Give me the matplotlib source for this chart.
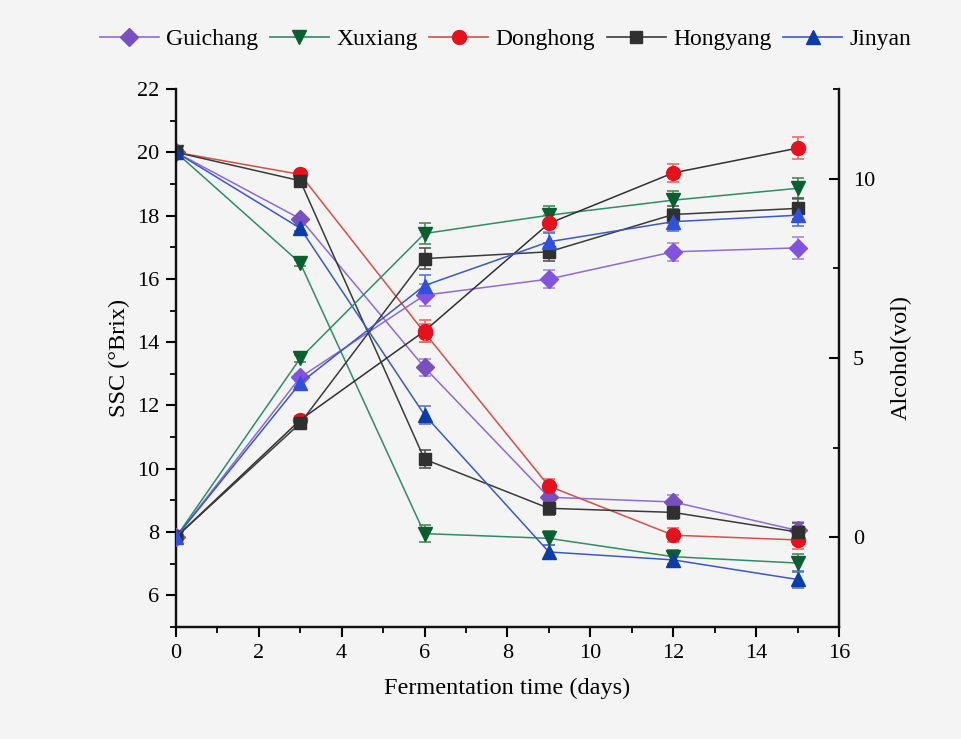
import numpy as np
import matplotlib
matplotlib.use("Agg")
import matplotlib.pyplot as plt
from matplotlib.lines import Line2D
from matplotlib.ticker import MultipleLocator

plt.rcParams['font.family'] = ['Liberation Serif', 'DejaVu Serif']

# fermentation days
days = [0, 3, 6, 9, 12, 15]
names = ["Guichang", "Xuxiang", "Donghong", "Hongyang", "Jinyan"]

# soluble solids (left axis, °Brix)
ssc_guichang = [20.0, 17.9, 13.2, 9.1, 8.95, 8.05]
ssc_xuxiang = [20.0, 16.5, 7.95, 7.8, 7.22, 7.02]
ssc_donghong = [20.0, 19.3, 14.3, 9.45, 7.9, 7.75]
ssc_hongyang = [20.0, 19.1, 10.3, 8.75, 8.62, 8.0]
ssc_jinyan = [20.0, 17.6, 11.7, 7.37, 7.12, 6.5]

# alcohol (right axis, vol)
alc_guichang = [0.0, 4.46, 6.75, 7.2, 7.96, 8.07]
alc_xuxiang = [0.0, 4.99, 8.47, 8.98, 9.4, 9.73]
alc_donghong = [0.0, 3.27, 5.75, 8.75, 10.16, 10.85]
alc_hongyang = [0.0, 3.18, 7.77, 7.96, 9.0, 9.17]
alc_jinyan = [0.0, 4.3, 7.02, 8.24, 8.8, 8.98]

# error bars
ssc_err = [0.05, 0.1, 0.28, 0.22, 0.22, 0.28]
alc_err = [0.05, 0.1, 0.3, 0.25, 0.25, 0.3]

ssc = [ssc_guichang, ssc_xuxiang, ssc_donghong, ssc_hongyang, ssc_jinyan]
alc = [alc_guichang, alc_xuxiang, alc_donghong, alc_hongyang, alc_jinyan]

markers = ['D', 'v', 'o', 's', '^']
mcolors = ['#7a4fbf', '#0b5e30', '#e4121c', '#303030', '#0c3ca8']
mcolors2 = ['#8452e0', '#0b5e30', '#e4121c', '#303030', '#3150dc']
lcolors = ['#8c6cd4', '#2e8c68', '#d4504a', '#3a3a3a', '#3a58c8']
lcolors2 = ['#8c6cd4', '#2e8c68', '#303030', '#3a3a3a', '#3a58c8']
ecolors = ['#a58ae0', '#4a8a60', '#ee6a6a', '#555555', '#5a78d0']
msizes = [9, 10, 10, 8.5, 10]

fig = plt.figure(figsize=(9.61, 7.39), dpi=100)
fig.patch.set_facecolor('#f4f4f4')
ax = fig.add_axes([0.183, 0.1516, 0.690, 0.728])
ax.set_facecolor('#f4f4f4')
ax2 = ax.twinx()

for i in range(5):
    ax.errorbar(days, ssc[i], yerr=ssc_err, color=lcolors[i], lw=1.1,
                marker=markers[i], ms=msizes[i], mfc=mcolors[i], mec=mcolors[i],
                ecolor=ecolors[i], elinewidth=1.2, capsize=4.5, capthick=1.2, zorder=3)
    ax2.errorbar(days, alc[i], yerr=alc_err, color=lcolors2[i], lw=1.1,
                 marker=markers[i], ms=msizes[i], mfc=mcolors2[i], mec=mcolors2[i],
                 ecolor=ecolors[i], elinewidth=1.2, capsize=4.5, capthick=1.2, zorder=3)

ax.set_xlim(0, 16)
ax.set_ylim(5, 22)
ax2.set_ylim(-2.5, 12.5)

ax.xaxis.set_major_locator(MultipleLocator(2))
ax.xaxis.set_minor_locator(MultipleLocator(1))
ax.yaxis.set_major_locator(MultipleLocator(2))
ax.yaxis.set_minor_locator(MultipleLocator(1))
ax2.yaxis.set_major_locator(MultipleLocator(5))
ax2.yaxis.set_minor_locator(MultipleLocator(2.5))
ax2.set_yticks([0, 5, 10])

for a in (ax, ax2):
    a.spines['top'].set_visible(False)
    for s in a.spines.values():
        s.set_linewidth(1.6)
        s.set_color('#111111')

ax.tick_params(axis='both', which='major', direction='out', length=7, width=1.5,
               labelsize=16, pad=5)
ax.tick_params(axis='both', which='minor', direction='out', length=4, width=1.3)
ax2.tick_params(axis='y', which='major', direction='in', length=7, width=1.5,
                labelsize=16, pad=10)
ax2.tick_params(axis='y', which='minor', direction='in', length=4, width=1.3)

ax.set_xlabel("Fermentation time (days)", fontsize=17.5, labelpad=11)
ax.set_ylabel("SSC (°Brix)", fontsize=17.5, labelpad=5)
ax2.set_ylabel("Alcohol(vol)", fontsize=17.5, labelpad=11)

handles = [Line2D([0], [0], color=lcolors[i], lw=1.2, marker=markers[i],
                  ms=msizes[i], mfc=mcolors[i], mec=mcolors[i]) for i in range(5)]
fig.legend(handles, names, loc='upper center', bbox_to_anchor=(0.526, 0.99),
           ncol=5, frameon=False, fontsize=17, handlelength=2.5,
           handletextpad=0.3, columnspacing=0.5)

fig.savefig("out.png", dpi=100, facecolor=fig.get_facecolor())
